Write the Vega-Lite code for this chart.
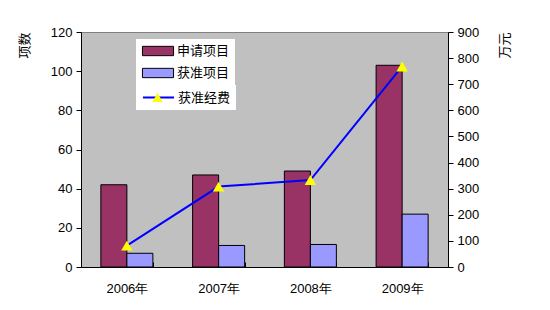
{
  "$schema": "https://vega.github.io/schema/vega-lite/v6.json",
  "width": 367,
  "height": 235,
  "autosize": "none",
  "padding": {"left": 81, "top": 32, "right": 102, "bottom": 43},
  "background": "white",
  "config": {
    "font": "Liberation Sans",
    "view": {"fill": "#C0C0C0", "stroke": "#808080", "strokeWidth": 1},
    "axis": {
      "domainColor": "black",
      "tickColor": "black",
      "labelColor": "black",
      "labelFont": "Liberation Sans",
      "labelFontSize": 13,
      "titleFont": "Noto Sans CJK SC",
      "titleFontSize": 13,
      "titleFontWeight": "normal",
      "titleColor": "black",
      "grid": false
    },
    "legend": {
      "labelFont": "Noto Sans CJK SC",
      "labelFontSize": 13,
      "labelColor": "black"
    }
  },
  "datasets": {
    "bars": [
      {"year": "2006年", "series": "申请项目", "count": 42},
      {"year": "2006年", "series": "获准项目", "count": 7},
      {"year": "2007年", "series": "申请项目", "count": 47},
      {"year": "2007年", "series": "获准项目", "count": 11},
      {"year": "2008年", "series": "申请项目", "count": 49},
      {"year": "2008年", "series": "获准项目", "count": 11.5},
      {"year": "2009年", "series": "申请项目", "count": 103},
      {"year": "2009年", "series": "获准项目", "count": 27}
    ],
    "fund": [
      {"year": "2006年", "line": "获准经费", "marker": "m", "fund": 82},
      {"year": "2007年", "line": "获准经费", "marker": "m", "fund": 308},
      {"year": "2008年", "line": "获准经费", "marker": "m", "fund": 333},
      {"year": "2009年", "line": "获准经费", "marker": "m", "fund": 768}
    ]
  },
  "layer": [
    {
      "data": {"name": "bars"},
      "mark": {"type": "bar", "stroke": "black", "strokeWidth": 1},
      "encoding": {
        "x": {
          "field": "year", "type": "nominal",
          "sort": ["2006年", "2007年", "2008年", "2009年"],
          "scale": {"paddingInner": 0.433, "paddingOuter": 0.2165},
          "axis": {
            "title": null, "labelAngle": 0, "tickBand": "extent",
            "tickSize": -5, "labelPadding": 20, "labelFont": "Liberation Sans"
          }
        },
        "xOffset": {"field": "series", "type": "nominal", "sort": ["申请项目", "获准项目"]},
        "y": {
          "field": "count", "type": "quantitative",
          "scale": {"domain": [0, 120]},
          "axis": {
            "values": [0, 20, 40, 60, 80, 100, 120],
            "title": "项数", "titleAngle": -90, "titleAnchor": "end",
            "titlePadding": 19, "tickSize": 5, "labelPadding": 4
          }
        },
        "fill": {
          "field": "series", "type": "nominal",
          "scale": {"domain": ["申请项目", "获准项目"], "range": ["#993366", "#9999FF"]},
          "legend": {
            "title": null, "orient": "none", "legendX": 55, "legendY": 7,
            "fillColor": "white", "padding": 5,
            "symbolType": "M-2.5,-0.75H2.5V0.75H-2.5Z", "symbolSize": 155,
            "symbolOffset": 10,
            "symbolStrokeColor": "black", "symbolStrokeWidth": 1,
            "rowPadding": 8, "labelOffset": 12
          }
        }
      }
    },
    {
      "data": {"name": "fund"},
      "encoding": {
        "x": {"field": "year", "type": "nominal", "sort": ["2006年", "2007年", "2008年", "2009年"]},
        "y": {
          "field": "fund", "type": "quantitative",
          "scale": {"domain": [0, 900]},
          "axis": {
            "orient": "right",
            "values": [0, 100, 200, 300, 400, 500, 600, 700, 800, 900],
            "labelOverlap": false,
            "title": "万元", "titleAngle": -90, "titleAnchor": "end",
            "titlePadding": 33, "tickSize": 5, "labelPadding": 4
          }
        }
      },
      "layer": [
        {
          "mark": {"type": "line", "strokeWidth": 2},
          "encoding": {
            "stroke": {
              "field": "line", "type": "nominal",
              "scale": {"range": ["#0000FF"]},
              "legend": {
                "title": null, "orient": "none", "legendX": 55, "legendY": 53,
                "fillColor": "white", "padding": 5,
                "symbolType": "M-2.5,0H2.5", "symbolSize": 155,
                "symbolOffset": 10, "symbolFillColor": "transparent",
                "symbolStrokeWidth": 2,
                "labelOffset": 12
              }
            }
          }
        },
        {
          "mark": {"type": "point", "filled": true, "fill": "#FFFF00", "size": 130, "opacity": 1},
          "encoding": {
            "shape": {
              "field": "marker", "type": "nominal",
              "scale": {"range": ["triangle-up"]},
              "legend": {
                "title": null, "orient": "none", "legendX": 70, "legendY": 59,
                "padding": 0, "labelExpr": "''",
                "symbolType": "triangle-up", "symbolSize": 110,
                "symbolFillColor": "#FFFF00", "symbolStrokeColor": "#FFFF00", "symbolStrokeWidth": 0,
                "symbolOpacity": 1
              }
            }
          }
        }
      ]
    }
  ],
  "resolve": {"scale": {"y": "independent"}}
}
